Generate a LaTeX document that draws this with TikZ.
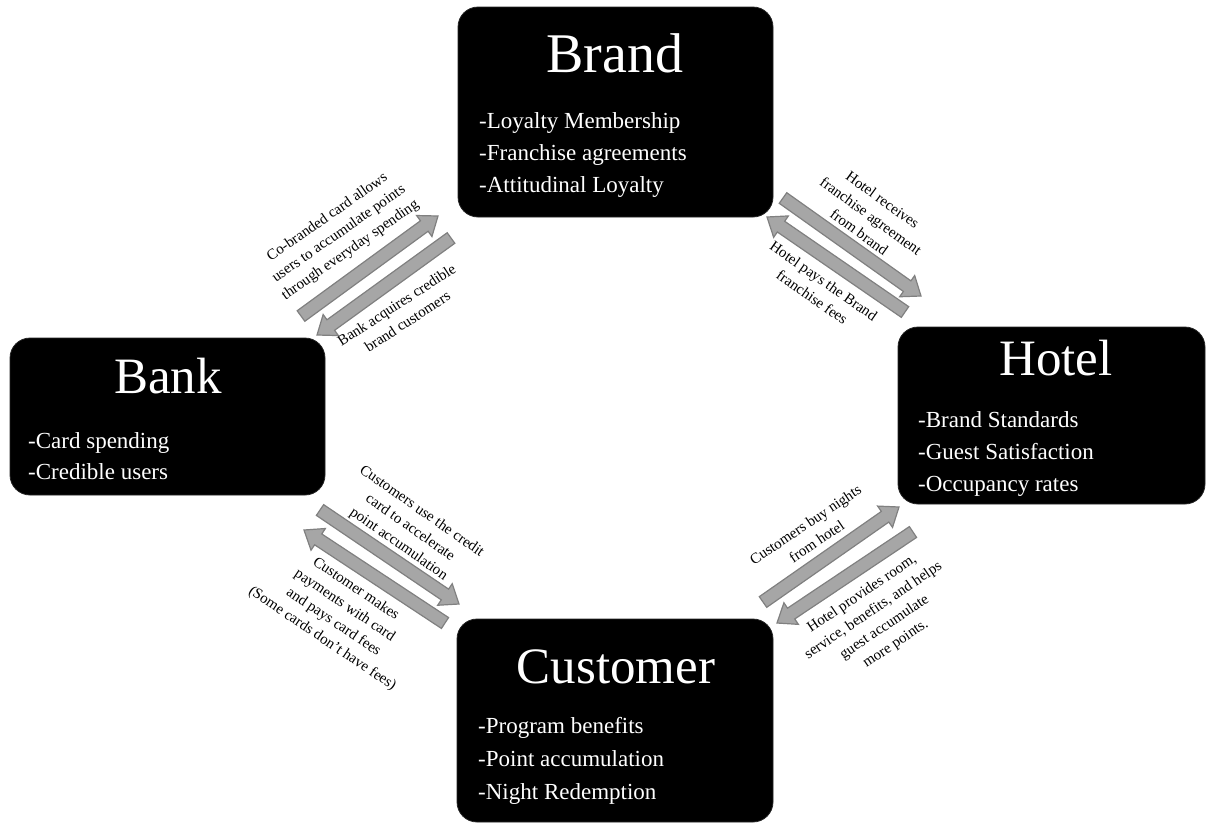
\documentclass[tikz,border=0pt]{standalone}
\usepackage{fontspec}
\setmainfont{Liberation Serif}
\usetikzlibrary{calc}
\definecolor{arrfill}{HTML}{A6A6A6}
\definecolor{arredge}{HTML}{808080}
\tikzset{
 box/.style={fill=black, draw=black!85, line width=0.8pt, rounded corners=20pt, inner sep=0pt},
 title/.style={text=white, anchor=base, inner sep=0pt, font=\fontsize{51}{55}\selectfont},
 item/.style={text=white, anchor=base west, inner sep=0pt, font=\fontsize{23}{27}\selectfont},
 lab/.style={align=center, inner sep=0pt, font=\fontsize{15}{20}\selectfont},
 barrow/.style={fill=arrfill, draw=arredge, line width=1.2pt, line join=miter},
}
\newcommand\blockarr[2]{%
 \coordinate (hb) at ($(#2)!17pt!(#1)$);
 \draw[barrow] ($(#1)!6.5pt!90:(#2)$) -- ($(hb)!6.5pt!90:(#2)$) -- ($(hb)!13pt!90:(#2)$) -- (#2)
   -- ($(hb)!13pt!-90:(#2)$) -- ($(hb)!6.5pt!-90:(#2)$) -- ($(#1)!6.5pt!-90:(#2)$) -- cycle;
}
\begin{document}
\begin{tikzpicture}[x=1pt,y=-1pt]
\useasboundingbox (0,0) rectangle (1206,825);
% boxes
\node[box, minimum width=315pt, minimum height=210pt] (brand) at (615.5,112) {};
\node[box, minimum width=307pt, minimum height=177pt] (hotel) at (1051.5,415.5) {};
\node[box, minimum width=315pt, minimum height=157pt] (bank) at (167.5,416.5) {};
\node[box, minimum width=316pt, minimum height=203pt] (customer) at (615,720.5) {};
% titles
\node[title, font=\fontsize{56}{60}\selectfont] (brandT) at (615,72) {Brand};
\node[title] (hotelT) at (1056,375) {Hotel};
\node[title] (bankT) at (168,393) {Bank};
\node[title] (customerT) at (616,683) {Customer};
% items
\node[item] (br1) at (479,128) {-Loyalty Membership};
\node[item] (br2) at (479,160) {-Franchise agreements};
\node[item] (br3) at (479,192) {-Attitudinal Loyalty};
\node[item] (ho1) at (918,427) {-Brand Standards};
\node[item] (ho2) at (918,459) {-Guest Satisfaction};
\node[item] (ho3) at (918,491) {-Occupancy rates};
\node[item] (ba1) at (28,448) {-Card spending};
\node[item] (ba2) at (28,479) {-Credible users};
\node[item] (cu1) at (478,733) {-Program benefits};
\node[item] (cu2) at (478,766) {-Point accumulation};
\node[item] (cu3) at (478,799) {-Night Redemption};
% arrow end points
\coordinate (a1s) at (301,316); \coordinate (a1e) at (438,216);
\coordinate (a2s) at (451,238); \coordinate (a2e) at (317,335);
\coordinate (b1s) at (783,198); \coordinate (b1e) at (921,296);
\coordinate (b2s) at (905,312); \coordinate (b2e) at (767,217);
\coordinate (c1s) at (320,510); \coordinate (c1e) at (459,604);
\coordinate (c2s) at (445,623); \coordinate (c2e) at (304,530);
\coordinate (d1s) at (763,602); \coordinate (d1e) at (899,507);
\coordinate (d2s) at (913,532); \coordinate (d2e) at (777,623);
\blockarr{a1s}{a1e}
\blockarr{a2s}{a2e}
\blockarr{b1s}{b1e}
\blockarr{b2s}{b2e}
\blockarr{c1s}{c1e}
\blockarr{c2s}{c2e}
\blockarr{d1s}{d1e}
\blockarr{d2s}{d2e}
% labels
\node[lab, rotate=35] (la1) at (339,234) {Co-branded card allows\\users to accumulate points\\through everyday spending};
\node[lab, rotate=33] (la2) at (402,313) {Bank acquires credible\\brand customers};
\node[lab, rotate=-36] (lb1) at (871,216) {Hotel receives\\franchise agreement\\from brand};
\node[lab, rotate=-35] (lb2) at (818,289) {Hotel pays the Brand\\franchise fees};
\node[lab, rotate=-35] (lc1) at (410,528) {Customers use the credit\\card to accelerate\\point accumulation};
\node[lab, rotate=-34] (lc2) at (339,614) {Customer makes\\payments with card\\and pays card fees\\(Some cards don’t have fees)};
\node[lab, rotate=34] (ld1) at (811,533) {Customers buy nights\\from hotel};
\node[lab, rotate=34] (ld2) at (879,619) {Hotel provides room,\\service, benefits, and helps\\guest accumulate\\more points.};
\end{tikzpicture}
\end{document}
